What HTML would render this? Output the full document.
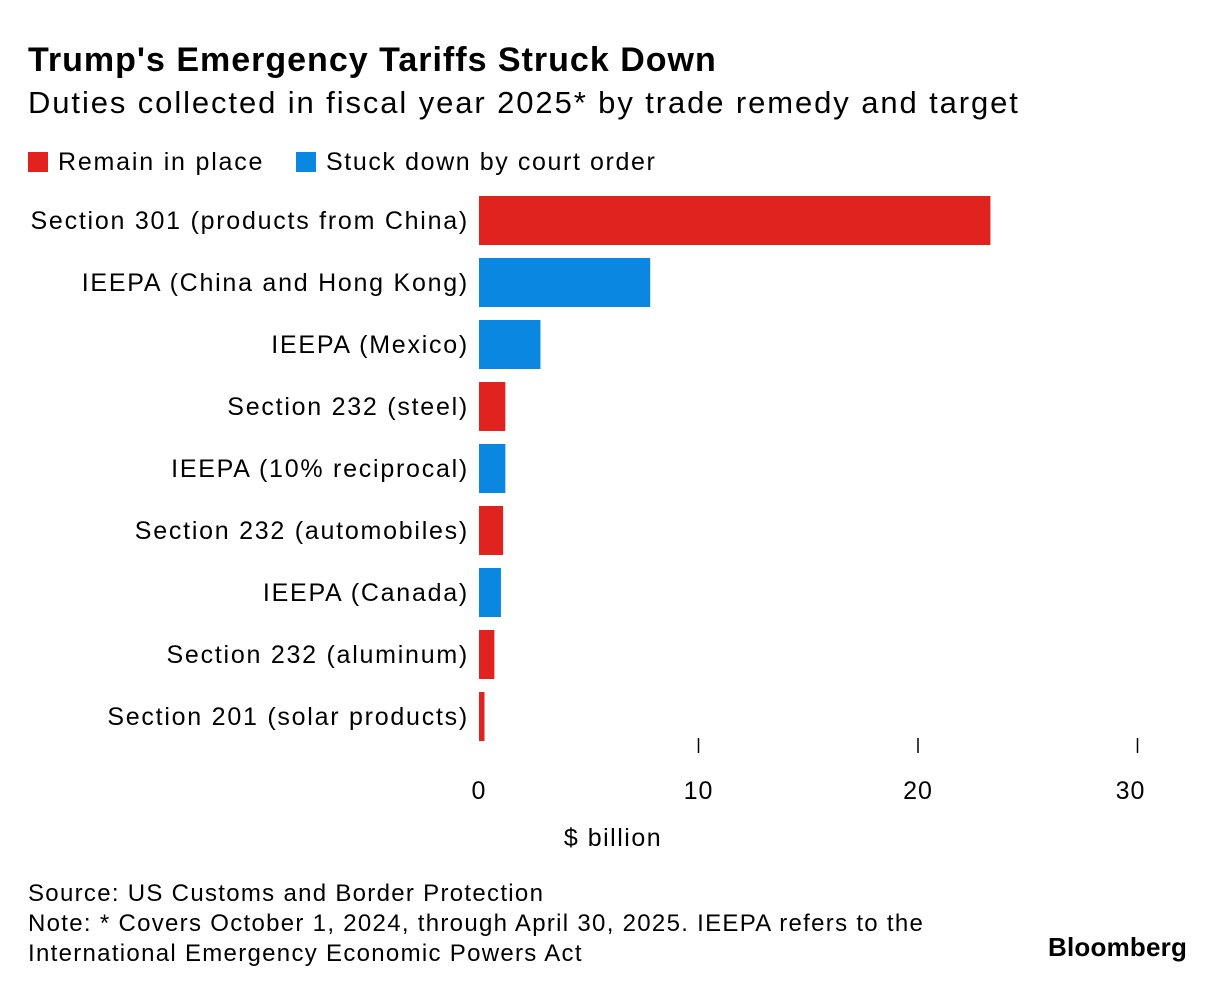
<!DOCTYPE html>
<html><head><meta charset="utf-8"><style>
body{margin:0;width:1227px;height:992px;background:#fff;font-family:"Liberation Sans",sans-serif;color:#000;position:relative;overflow:hidden}
.t{position:absolute;white-space:nowrap}
</style></head><body>
<div class="t" style="left:28px;top:41px;font-size:34px;font-weight:bold;letter-spacing:1px">Trump's Emergency Tariffs Struck Down</div>
<div class="t" style="left:28px;top:85px;font-size:31px;letter-spacing:1.9px">Duties collected in fiscal year 2025* by trade remedy and target</div>
<div class="t" style="left:28px;top:148px;font-size:25px;letter-spacing:1.8px"><span style="display:inline-block;width:20px;height:20px;background:#e0231e;vertical-align:-2px;margin-right:10px"></span>Remain in place</div>
<div class="t" style="left:296px;top:148px;font-size:25px;letter-spacing:1.6px"><span style="display:inline-block;width:20px;height:20px;background:#0a87e0;vertical-align:-2px;margin-right:10px"></span>Stuck down by court order</div>
<svg id="chart" width="1227" height="992" style="position:absolute;left:0;top:0"></svg>
<div class="t" style="left:28px;top:879px;font-size:24px;line-height:30px;letter-spacing:1.3px">Source: US Customs and Border Protection<br>Note: * Covers October 1, 2024, through April 30, 2025. IEEPA refers to the<br>International Emergency Economic Powers Act</div>
<div class="t" style="left:1048px;top:932px;font-size:26px;font-weight:bold;letter-spacing:0.2px">Bloomberg</div>
<script>
const categories=["Section 301 (products from China)","IEEPA (China and Hong Kong)","IEEPA (Mexico)","Section 232 (steel)","IEEPA (10% reciprocal)","Section 232 (automobiles)","IEEPA (Canada)","Section 232 (aluminum)","Section 201 (solar products)"];
const values=[23.3,7.8,2.8,1.2,1.2,1.1,1.0,0.7,0.25];
const status=["remain","struck","struck","remain","struck","remain","struck","remain","remain"];
const ticks=[0,10,20,30];
const svg=document.getElementById('chart');
const NS='http://www.w3.org/2000/svg';
const x=v=>479+v*21.95;
const y=i=>196+i*62;
function mk(t,a){const e=document.createElementNS(NS,t);for(const k in a)e.setAttribute(k,a[k]);svg.appendChild(e);return e;}
categories.forEach((c,i)=>{
 const r=mk('rect',{x:x(0),y:y(i),width:x(values[i])-x(0),height:49,fill:status[i]==='remain'?'#e0231e':'#0a87e0'});
 
 
 const t=mk('text',{x:469,y:y(i)+33,'text-anchor':'end','font-size':25,'letter-spacing':1.75,'font-family':'Liberation Sans, sans-serif'});
 t.textContent=c;
 
 
});
ticks.forEach(v=>{
 if(v>0){const l=mk('line',{x1:x(v),x2:x(v),y1:738,y2:753,stroke:'#000','stroke-width':1.5});
 
 }
 const t=mk('text',{x:x(v)-(v===30?7:0),y:799,'text-anchor':'middle','font-size':25,'letter-spacing':1,'font-family':'Liberation Sans, sans-serif'});
 t.textContent=v;
 
 
});
const at=mk('text',{x:613,y:846,'text-anchor':'middle','font-size':25,'letter-spacing':1.5,'font-family':'Liberation Sans, sans-serif'});
at.textContent='$ billion';


</script>
</body></html>
